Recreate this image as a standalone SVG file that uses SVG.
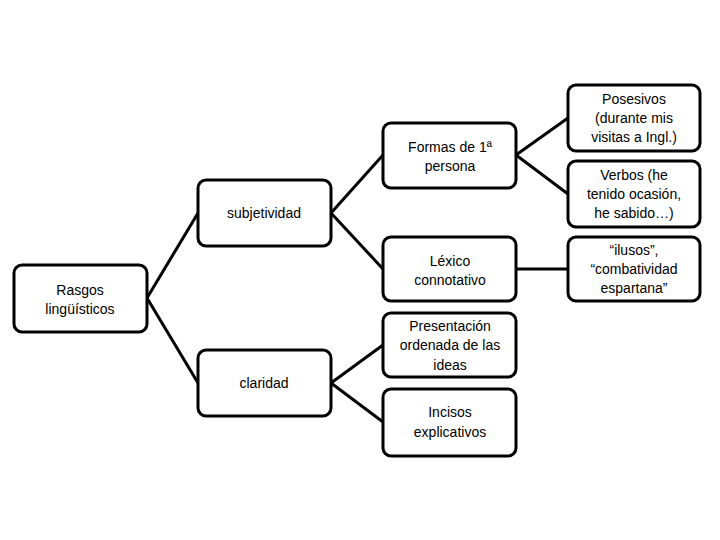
<svg xmlns="http://www.w3.org/2000/svg" width="720" height="540" viewBox="0 0 720 540">
<style>
.n{fill:#fff;stroke:#000;stroke-width:3}
line{stroke:#000;stroke-width:3}
text{font-family:"Liberation Sans",Arial,sans-serif;font-size:14px;text-anchor:middle;fill:#000}
</style>
<rect width="720" height="540" style="fill:#fff;stroke:none"/>
<g id="connectors">
<line x1="147" y1="298" x2="198" y2="213"/>
<line x1="147" y1="298" x2="198" y2="383"/>
<line x1="331" y1="213" x2="383" y2="155"/>
<line x1="331" y1="213" x2="383" y2="269"/>
<line x1="331" y1="383" x2="383" y2="345"/>
<line x1="331" y1="383" x2="383" y2="422"/>
<line x1="516" y1="155" x2="568" y2="118"/>
<line x1="516" y1="155" x2="568" y2="194"/>
<line x1="516" y1="269" x2="568" y2="269"/>
</g>
<g id="rasgos"><rect class="n" x="14" y="265" width="133" height="67" rx="8"/><text x="80" y="295">Rasgos</text><text x="80" y="314">lingüísticos</text></g>
<g id="subjetividad"><rect class="n" x="198" y="180" width="133" height="66" rx="8"/><text x="264" y="218">subjetividad</text></g>
<g id="claridad"><rect class="n" x="198" y="350" width="133" height="66" rx="8"/><text x="264" y="388">claridad</text></g>
<g id="formas"><rect class="n" x="383" y="123" width="133" height="65" rx="8"/><text x="450" y="152">Formas de 1ª</text><text x="450" y="171">persona</text></g>
<g id="lexico"><rect class="n" x="383" y="237" width="133" height="64" rx="8"/><text x="450" y="266">Léxico</text><text x="450" y="285">connotativo</text></g>
<g id="presentacion"><rect class="n" x="383" y="313" width="133" height="64" rx="8"/><text x="450" y="331">Presentación</text><text x="450" y="350">ordenada de las</text><text x="450" y="370">ideas</text></g>
<g id="incisos"><rect class="n" x="383" y="389" width="133" height="67" rx="8"/><text x="450" y="417">Incisos</text><text x="450" y="437">explicativos</text></g>
<g id="posesivos"><rect class="n" x="568" y="85" width="132" height="66" rx="8"/><text x="634" y="104">Posesivos</text><text x="634" y="123">(durante mis</text><text x="634" y="142">visitas a Ingl.)</text></g>
<g id="verbos"><rect class="n" x="568" y="161" width="132" height="66" rx="8"/><text x="634" y="180">Verbos (he</text><text x="634" y="199">tenido ocasión,</text><text x="634" y="218">he sabido…)</text></g>
<g id="ilusos"><rect class="n" x="568" y="237" width="132" height="64" rx="8"/><text x="634" y="255">“ilusos”,</text><text x="634" y="274">“combatividad</text><text x="634" y="293">espartana”</text></g>
</svg>
